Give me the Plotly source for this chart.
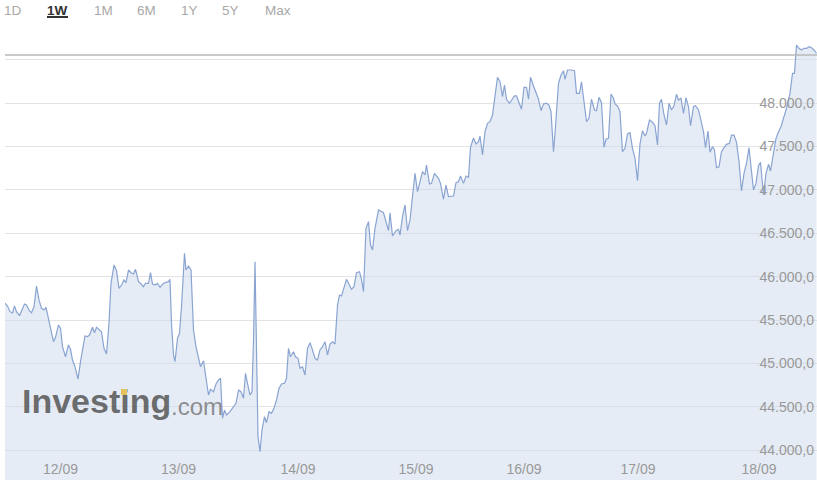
import plotly.graph_objects as go

# ---------------- data ----------------
t = [0.0, 0.5, 1.0, 1.5, 1.9, 2.3, 2.9, 3.4, 3.9, 4.3, 4.9, 5.3, 5.8, 6.3, 6.8, 7.3, 7.8, 8.2, 8.7, 9.1,
     9.7, 10.1, 10.7, 11.1, 11.5, 12.1, 12.7, 13.1, 13.5, 14.0, 14.6, 15.1, 15.7, 16.0, 16.5, 16.9, 17.5, 17.9, 18.3, 18.8,
     19.3, 19.8, 20.3, 20.8, 21.2, 21.8, 22.3, 22.8, 23.3, 23.8, 24.2, 24.7, 25.2, 25.7, 26.1, 26.7, 27.1, 27.7, 28.1, 28.7,
     29.1, 29.5, 30.0, 30.5, 31.0, 31.7, 32.3, 32.7, 33.0, 33.3, 33.7, 34.0, 34.5, 34.9, 35.3, 35.7, 35.9, 36.2, 36.7, 37.2,
     37.7, 38.2, 38.7, 39.1, 39.7, 40.1, 40.7, 41.1, 41.7, 42.2, 42.7, 43.1, 43.5, 43.9, 44.3, 45.0, 45.7, 46.2, 46.7, 47.2,
     47.7, 48.1, 48.5, 49.0, 49.4, 49.7, 50.0, 50.3, 50.6, 51.0, 51.4, 51.9, 52.3, 52.8, 53.3, 53.8, 54.3, 54.8, 55.3, 55.9,
     56.3, 56.7, 57.1, 57.7, 58.1, 58.6, 59.0, 59.5, 60.0, 60.5, 61.0, 61.5, 62.0, 62.5, 63.0, 63.5, 64.0, 64.5, 65.0, 65.5,
     66.0, 66.5, 66.9, 67.3, 68.3, 69.3, 69.8, 70.3, 70.9, 71.3, 71.7, 72.2, 72.7, 73.1, 73.5, 74.0, 74.7, 75.7, 76.2, 76.7,
     77.0, 77.5, 78.2, 78.7, 79.0, 79.5, 80.0, 80.5, 81.0, 82.0, 82.5, 83.0, 83.5, 84.0, 84.3, 84.9, 85.3, 85.9, 86.7, 87.1,
     87.7, 88.2, 88.7, 89.7, 90.2, 90.7, 91.1, 91.7, 92.2, 92.7, 93.1, 93.7, 94.2, 94.7, 95.0, 95.5, 96.0, 96.5, 97.0, 97.5,
     98.0, 98.5, 99.0, 99.5, 99.9, 100.3, 100.9, 101.3, 101.9, 102.3, 102.8, 103.3, 103.8, 104.3, 104.7, 105.1, 105.7, 106.1, 106.7, 107.2,
     107.7, 108.3, 108.8, 109.2, 109.7, 110.1, 110.7, 111.2, 111.7, 112.0, 112.5, 113.2, 113.9, 114.3, 114.9, 115.3, 115.9, 116.3, 116.8, 117.3,
     117.9, 118.3, 118.8, 119.3, 119.8, 120.2, 120.7, 121.2, 121.7, 122.0, 122.5, 123.0, 123.5, 124.0, 124.5, 125.0, 125.5, 126.0, 126.5, 127.0,
     127.5, 128.0, 128.3, 128.9, 129.5, 130.0, 130.5, 130.9, 131.3, 131.8, 132.3, 132.8, 133.3, 133.8, 134.3, 134.7, 135.2, 135.7, 136.2, 136.7,
     137.1, 137.7, 138.1, 138.7, 139.1, 139.7, 140.1, 140.6, 141.0, 141.5, 141.9, 142.3, 142.8, 143.3, 143.8, 144.3, 144.9, 145.3, 145.8, 146.3,
     146.8, 147.3, 147.8, 148.3, 148.8, 149.2, 149.7, 150.2, 150.7, 151.1, 151.7, 152.2, 152.7, 153.1, 153.7, 154.2, 154.7, 155.2, 155.7, 156.3,
     157.0, 157.5, 157.9, 158.3, 158.8, 159.3, 159.8, 160.3, 160.9, 161.3, 161.8, 162.3]

price = [45693, 45661, 45596, 45581, 45661, 45596, 45550, 45615, 45685, 45673, 45604, 45584, 45653, 45892, 45731, 45635, 45615, 45646, 45520, 45405,
         45250, 45301, 45443, 45405, 45193, 45077, 45212, 45163, 45039, 44962, 44820, 45020, 45212, 45316, 45308, 45327, 45416, 45354, 45416, 45393,
         45365, 45174, 45109, 45462, 45923, 46134, 46068, 45865, 45903, 45961, 45930, 46076, 46045, 46030, 46084, 45941, 45923, 45884, 45923, 45923,
         46045, 45915, 45903, 45923, 45877, 45923, 45930, 45942, 45969, 45462, 45097, 45020, 45289, 45347, 45653, 46057, 46269, 46076, 46122, 46076,
         45385, 45193, 45059, 44962, 45031, 44847, 44636, 44702, 44674, 44763, 44809, 44829, 44368, 44463, 44406, 44444, 44501, 44541, 44694, 44674,
         44598, 44886, 44771, 44636, 44674, 45270, 46172, 44962, 44156, 43983, 44233, 44386, 44317, 44444, 44425, 44483, 44579, 44713, 44763, 44771,
         44829, 45174, 45077, 45135, 45077, 45059, 44944, 44962, 44867, 45174, 45239, 45155, 45059, 45039, 45155, 45193, 45250, 45097, 45224, 45250,
         45224, 45673, 45788, 45777, 45969, 45854, 45884, 46045, 46057, 45969, 45826, 46557, 46633, 46364, 46307, 46557, 46767, 46736, 46614, 46529,
         46736, 46468, 46529, 46545, 46479, 46690, 46825, 46529, 46652, 47190, 46978, 47093, 47209, 47171, 47286, 47067, 47074, 47190, 47133, 47074,
         46891, 47055, 46921, 46929, 47082, 47093, 47159, 47074, 47159, 47144, 47490, 47597, 47528, 47554, 47620, 47401, 47669, 47766, 47785, 47862,
         48073, 48296, 48245, 48073, 48207, 48043, 47997, 48027, 48081, 48081, 48015, 47928, 48181, 48181, 48043, 48296, 48196, 48142, 48043, 47911,
         47989, 47997, 47977, 47900, 47439, 47727, 48227, 48323, 48372, 48273, 48380, 48380, 48372, 48112, 48112, 48245, 47957, 47785, 47824, 48043,
         47919, 47911, 48066, 48004, 47490, 47582, 47593, 48104, 48054, 47989, 47966, 47900, 47439, 47478, 47643, 47658, 47478, 47363, 47105, 47528,
         47681, 47620, 47651, 47804, 47778, 47739, 47516, 47997, 48043, 47862, 47747, 47997, 47919, 47969, 48100, 48035, 48054, 47881, 48061, 47957,
         47739, 47957, 47969, 47919, 47824, 47669, 47485, 47677, 47432, 47497, 47459, 47255, 47266, 47439, 47485, 47524, 47536, 47631, 47631, 47547,
         47324, 46986, 47190, 47305, 47485, 47248, 46998, 47074, 47278, 47317, 46940, 47190, 47294, 47217, 47439, 47593, 47669, 47727, 47824, 47939,
         48112, 48342, 48342, 48668, 48630, 48611, 48630, 48630, 48649, 48637, 48611, 48573]

x_tick_pos = [11.1, 34.7, 58.6, 82.2, 103.8, 126.6, 150.8]
x_tick_labels = ["12/09", "13/09", "14/09", "15/09", "16/09", "17/09", "18/09"]
y_tick_vals = [44000, 44500, 45000, 45500, 46000, 46500, 47000, 47500, 48000, 48500]
y_labeled_max = 48000
range_buttons = ["1D", "1W", "1M", "6M", "1Y", "5Y", "Max"]
active_button = "1W"

# ---------------- layout helpers (page pixels -> paper) ----------------
W, H = 817, 483
ML, MR, MT, MB = 5, 0, 30, 3
PW, PH = W - ML - MR, H - MT - MB


def px(xp):
    return (xp - ML) / PW


def py(yp):
    return (H - MB - yp) / PH


def fmt(v):
    s = f"{v:,.1f}"
    return s.replace(",", "X").replace(".", ",").replace("X", ".")


y_tick_text = [fmt(v) if v <= y_labeled_max else "" for v in y_tick_vals]

FONT = "Liberation Sans, Arial, sans-serif"

fig = go.Figure()
fig.add_trace(go.Scatter(
    x=t, y=price, mode="lines",
    line=dict(color="#8aa4d2", width=1.2),
    fill="tozeroy", fillcolor="rgba(205,218,236,0.5)",
    hoverinfo="skip", showlegend=False,
))

annotations = []
button_centers = [13.3, 57.5, 103, 146.3, 189, 230.5, 277.5]
for lab, cx in zip(range_buttons, button_centers):
    active = lab == active_button
    annotations.append(dict(
        x=px(cx), y=py(10.5), xref="paper", yref="paper",
        text=f"<b>{lab}</b>" if active else lab, showarrow=False,
        xanchor="center", yanchor="middle",
        font=dict(family=FONT, size=13.5, color="#333333" if active else "#a8a8a8"),
    ))

# watermark
annotations.append(dict(
    x=px(20), y=py(401), xref="paper", yref="paper", text="<b>Investing</b>",
    showarrow=False, xanchor="left", yanchor="middle",
    font=dict(family=FONT, size=34, color="rgba(85,85,85,0.85)"),
))
annotations.append(dict(
    x=px(169), y=py(406), xref="paper", yref="paper", text=".com",
    showarrow=False, xanchor="left", yanchor="middle",
    font=dict(family=FONT, size=24, color="rgba(115,115,115,0.8)"),
))
# gold dot of the logo's "i"
annotations.append(dict(
    x=px(123.8), y=py(391.5), xref="paper", yref="paper", text=" ",
    showarrow=False, xanchor="center", yanchor="middle",
    width=6, height=6, bgcolor="#e4c35e", borderpad=0, borderwidth=0,
    font=dict(size=1),
))

shapes = [
    # top border line
    dict(type="line", xref="paper", yref="paper", x0=0, x1=1, y0=py(55), y1=py(55),
         line=dict(color="#b9b9b9", width=1.5)),
    # active button underline
    dict(type="line", xref="paper", yref="paper", x0=px(47), x1=px(68), y0=py(17), y1=py(17),
         line=dict(color="#333333", width=2)),
]

fig.update_layout(
    width=W, height=H,
    margin=dict(l=ML, r=MR, t=MT, b=MB, pad=0),
    paper_bgcolor="white", plot_bgcolor="white",
    separators=",.",
    showlegend=False,
    annotations=annotations,
    shapes=shapes,
    font=dict(family=FONT),
    xaxis=dict(
        range=[0, 162.4], tickvals=x_tick_pos, ticktext=x_tick_labels,
        ticklabelposition="inside", showgrid=False, zeroline=False,
        showline=False, ticks="", fixedrange=True,
        tickfont=dict(family=FONT, size=14, color="#999999"),
    ),
    yaxis=dict(
        range=[43657, 48841], side="right", tickvals=y_tick_vals, ticktext=y_tick_text,
        ticklabelposition="inside", showgrid=True, gridcolor="#e3e3e3", gridwidth=1,
        zeroline=False, showline=False, ticks="", fixedrange=True,
        tickfont=dict(family=FONT, size=14, color="#999999"),
    ),
)

fig.write_html(
    "out.html",
    config={"displayModeBar": False},
    post_script="document.body.style.margin='0px';",
)
